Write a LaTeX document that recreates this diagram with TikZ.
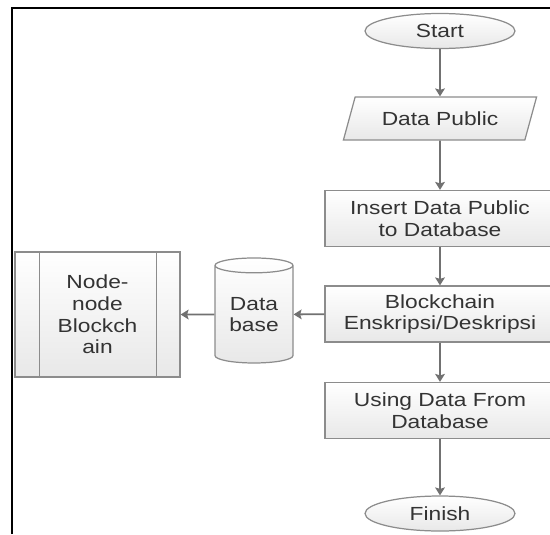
\documentclass[tikz,border=0pt]{standalone}
\usepackage{fontspec}
\setmainfont{Liberation Sans}[FakeStretch=1.2]
\usetikzlibrary{shapes.geometric, arrows.meta, positioning}

\definecolor{lineGray}{HTML}{8C8C8C}
\definecolor{arrowGray}{HTML}{717171}
\definecolor{textGray}{HTML}{333333}

\tikzset{
	base/.style={draw=lineGray, line width=0.7pt, top color=white, bottom color=black!9, text=textGray,
		font=\fontsize{10.8pt}{12.3pt}\selectfont, align=center, inner sep=0pt},
	terminal/.style={base, ellipse, minimum width=3cm, minimum height=0.7cm},
	io/.style={base, trapezium, trapezium left angle=60, trapezium right angle=120,
		trapezium stretches=true, minimum width=3.88cm, minimum height=0.86cm},
	process/.style={base, rectangle, minimum width=4.6cm, minimum height=1.12cm},
	storage/.style={base, cylinder, shape border rotate=90, aspect=0.3,
		minimum width=1.56cm, minimum height=2.1cm},
	subproc/.style={base, rectangle, minimum width=3.3cm, minimum height=2.5cm},
	flow/.style={-{Stealth[length=4.5pt, width=5.5pt, inset=0.8pt]}, draw=arrowGray, line width=1pt}
}

\begin{document}
\begin{tikzpicture}
			\useasboundingbox (0,0) rectangle (11,-10.68);
			
			% Frame of the page
			\draw[line width=1.4pt] (0.24,-10.68) -- (0.24,-0.16) -- (11,-0.16);
			
			% Main column
			\node[terminal] (start) at (8.8,-0.62) {Start};
			\node[io] (data) at (8.8,-2.37) {Data Public};
			\node[process] (insert) at (8.8,-4.37) {Insert Data Public\\to Database};
			\node[process] (crypt) at (8.8,-6.28) {Blockchain\\Enskripsi/Deskripsi};
			\node[process] (using) at (8.8,-8.21) {Using Data From\\Database};
			\node[terminal] (finish) at (8.8,-10.27) {Finish};
			
			% Side column
			\node[storage] (db) at (5.08,-6.29) {Data\\base};
			\node[subproc] (nodes) at (1.95,-6.29) {Node-\\node\\Blockch\\ain};
			\draw[draw=lineGray, line width=0.7pt] ([xshift=0.5cm]nodes.north west) -- ([xshift=0.5cm]nodes.south west);
			\draw[draw=lineGray, line width=0.7pt] ([xshift=-0.48cm]nodes.north east) -- ([xshift=-0.48cm]nodes.south east);
			
			% Arrows
			\draw[flow] (start) -- (data);
			\draw[flow] (data) -- (insert);
			\draw[flow] (insert) -- (crypt);
			\draw[flow] (crypt) -- (using);
			\draw[flow] (using) -- (finish);
			\draw[flow] (crypt) -- (db);
			\draw[flow] (db) -- (nodes);
\end{tikzpicture}
\end{document}
